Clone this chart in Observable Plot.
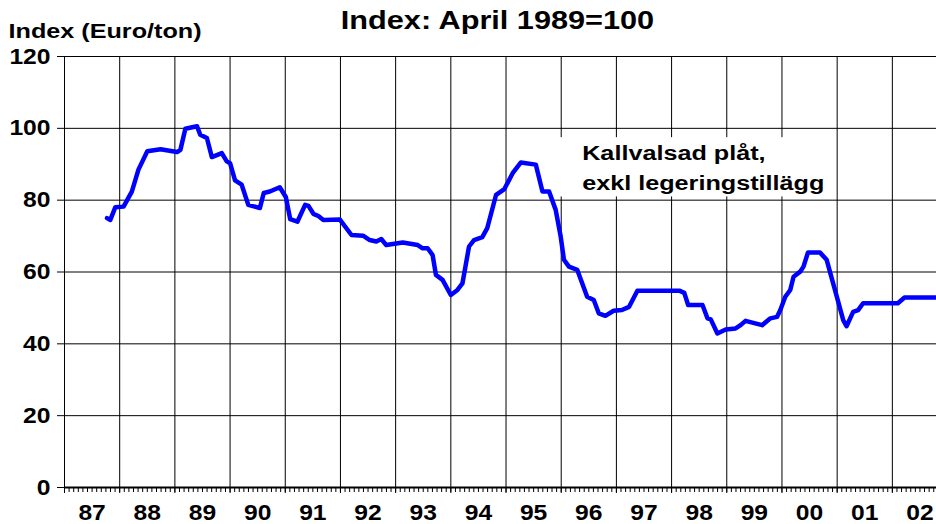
<!DOCTYPE html>
<html><head><meta charset="utf-8">
<script src="https://cdn.jsdelivr.net/npm/d3@7"></script>
<script src="https://cdn.jsdelivr.net/npm/@observablehq/plot@0.6"></script>
<style>
body{margin:0;background:#fff;}
#chart{width:936px;height:524px;}
</style></head><body><div id="chart"></div>
<script>
// Time (decimal year) and index values
const time = [1987.77,1987.83,1987.92,1988.07,1988.22,1988.34,1988.5,1988.74,1989.04,1989.1,1989.19,1989.4,1989.46,1989.58,1989.67,1989.85,1989.94,1990.0,1990.09,1990.21,1990.33,1990.54,1990.61,1990.72,1990.9,1991.01,1991.09,1991.22,1991.36,1991.42,1991.51,1991.6,1991.69,1991.99,1992.2,1992.41,1992.53,1992.65,1992.74,1992.83,1993.13,1993.4,1993.49,1993.58,1993.67,1993.73,1993.85,1994.0,1994.12,1994.21,1994.33,1994.42,1994.57,1994.66,1994.82,1994.97,1995.12,1995.27,1995.54,1995.66,1995.78,1995.9,1995.99,1996.05,1996.14,1996.29,1996.47,1996.59,1996.68,1996.8,1996.95,1997.1,1997.23,1997.38,1997.53,1998.14,1998.23,1998.3,1998.56,1998.65,1998.71,1998.83,1998.98,1999.16,1999.25,1999.34,1999.64,1999.79,1999.91,1999.97,2000.06,2000.15,2000.21,2000.33,2000.39,2000.47,2000.69,2000.81,2000.96,2001.11,2001.17,2001.29,2001.38,2001.47,2002.1,2002.22,2002.8];
const index = [75.0,74.5,78.0,78.2,82.4,88.5,93.6,94.2,93.4,94.0,99.9,100.6,98.2,97.3,92.0,93.1,90.8,90.3,85.5,84.3,78.7,77.8,82.0,82.4,83.6,80.9,74.7,74.0,78.7,78.4,76.2,75.6,74.5,74.6,70.3,70.1,68.9,68.5,69.2,67.5,68.2,67.5,66.6,66.6,64.7,59.2,57.8,53.6,55.0,56.8,67.1,68.9,69.7,72.2,81.5,83.1,87.5,90.5,89.9,82.4,82.4,77.3,69.9,63.4,61.5,60.6,53.1,52.2,48.5,47.8,49.2,49.4,50.3,54.8,54.8,54.8,54.2,50.8,50.8,47.1,46.8,42.9,44.0,44.3,45.2,46.4,45.2,47.1,47.5,49.4,53.1,55.0,58.7,60.1,61.5,65.4,65.4,63.4,55.0,46.6,44.9,48.9,49.4,51.3,51.3,52.9,52.9];

const yTicks = [0, 20, 40, 60, 80, 100, 120];
const gridYears = [1987,1988,1989,1990,1991,1992,1993,1994,1995,1996,1997,1998,1999,2000,2001,2002];
const yearLabels = ["87","88","89","90","91","92","93","94","95","96","97","98","99","00","01","02"];
const xDomain = [1987, 2002.8];
const monthTicks = d3.range(1987 * 12, 2002.8 * 12).map(m => m / 12);

const title = "Index: April 1989=100";
const yLabel = "Index (Euro/ton)";
const note = [{x1: 1995.93, x2: 2000.92, y1: 80.9, y2: 97.4, tx: 1996.38, ty: 97.0,
  label: "Kallvalsad plåt,\nexkl legeringstillägg"}];

const data = time.map((t, i) => ({t, v: index[i]}));
const labels = gridYears.map((y, i) => ({x: y + 0.5, label: yearLabels[i]}));

const font = "'Liberation Sans', Arial, Helvetica, sans-serif";

const chart = Plot.plot({
  width: 936,
  height: 524,
  marginLeft: 64,
  marginRight: 0,
  marginTop: 56,
  marginBottom: 37,
  style: {fontFamily: font, background: "white", color: "black"},
  x: {domain: xDomain, axis: null},
  y: {domain: [0, 120], axis: null},
  marks: [
    Plot.ruleY(yTicks, {stroke: "black", strokeWidth: 1, insetLeft: -7}),
    Plot.ruleX(gridYears, {stroke: "black", strokeWidth: 1, insetBottom: -6}),
    Plot.ruleX(monthTicks, {y1: 0, y2: 0, insetBottom: -5, stroke: "black", strokeWidth: 1}),
    Plot.ruleY([0], {stroke: "black", strokeWidth: 2}),
    Plot.rect(note, {x1: "x1", x2: "x2", y1: "y1", y2: "y2", fill: "white"}),
    Plot.line(data, {x: "t", y: "v", stroke: "#0000ff", strokeWidth: 4.5, strokeLinejoin: "round"}),
    Plot.text(yTicks, {y: d => d, text: d => String(d), frameAnchor: "left", textAnchor: "end", lineAnchor: "middle", dx: -14, dy: 7, fontSize: 22, fontWeight: "bold"}),
    Plot.text(labels, {x: "x", text: "label", frameAnchor: "bottom", lineAnchor: "middle", dy: 32, fontSize: 22, fontWeight: "bold"}),
    Plot.text(note, {x: "tx", y: "ty", text: "label", textAnchor: "start", lineAnchor: "top", lineHeight: 1.43, fontSize: 21, fontWeight: "bold"}),
    Plot.text([title], {frameAnchor: "top", lineAnchor: "middle", dx: -3, dy: -28, fontSize: 26, fontWeight: "bold"}),
    Plot.text([yLabel], {frameAnchor: "top-left", textAnchor: "start", lineAnchor: "middle", dx: -56, dy: -19, fontSize: 21, fontWeight: "bold"})
  ]
});

// horizontal stretch of the text glyphs to match the reference's wide lettering
const stretch = {"22": 1.12, "21": 1.2, "26": 1.18};
chart.querySelectorAll("text").forEach(el => {
  const g = el.closest("[font-size]");
  const fs = g ? String(parseFloat(g.getAttribute("font-size"))) : "21";
  const s = stretch[fs] || 1.15;
  const x = el.getAttribute("x"), y = el.getAttribute("y");
  let t = el.getAttribute("transform") || "";
  if (x !== null || y !== null) {
    t += ` translate(${+x || 0},${+y || 0})`;
    el.removeAttribute("x"); el.removeAttribute("y");
  }
  el.setAttribute("transform", `${t} scale(${s},1)`);
});

document.getElementById("chart").appendChild(chart);
</script>
</body></html>
